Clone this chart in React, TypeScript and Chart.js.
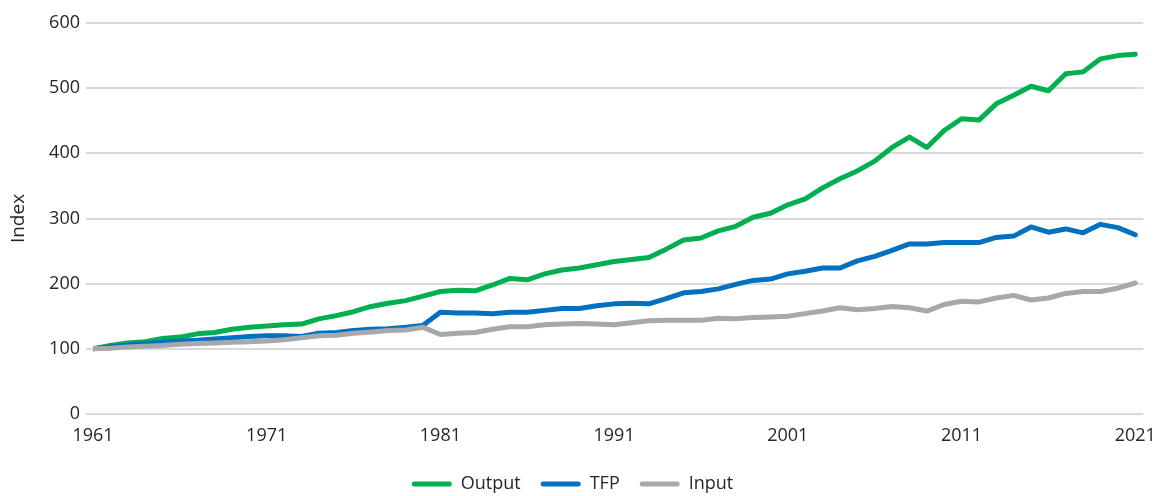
import { useEffect, useRef } from "react";
import { Chart, registerables } from "chart.js";

Chart.register(...registerables);

const years = [
  1961, 1962, 1963, 1964, 1965, 1966, 1967, 1968, 1969, 1970,
  1971, 1972, 1973, 1974, 1975, 1976, 1977, 1978, 1979, 1980,
  1981, 1982, 1983, 1984, 1985, 1986, 1987, 1988, 1989, 1990,
  1991, 1992, 1993, 1994, 1995, 1996, 1997, 1998, 1999, 2000,
  2001, 2002, 2003, 2004, 2005, 2006, 2007, 2008, 2009, 2010,
  2011, 2012, 2013, 2014, 2015, 2016, 2017, 2018, 2019, 2020,
  2021,
];

const tickYears = [1961, 1971, 1981, 1991, 2001, 2011, 2021];
const yTickValues = [0, 100, 200, 300, 400, 500, 600];

const outputIndex = [
  100, 105, 109, 111, 116, 118, 123, 125, 130, 133,
  135, 137, 138, 146, 151, 157, 165, 170, 174, 181,
  188, 190, 189, 198, 208, 206, 215, 221, 224, 229,
  234, 237, 240, 253, 267, 270, 281, 288, 302, 308,
  321, 330, 347, 361, 373, 388, 409, 425, 409, 435,
  453, 451, 476, 489, 503, 496, 522, 525, 545, 550,
  552,
];

const tfpIndex = [
  100, 103, 106, 108, 110, 112, 113, 115, 117, 119,
  120, 120, 119, 124, 125, 128, 130, 131, 133, 136,
  156, 155, 155, 154, 156, 156, 159, 162, 162, 166,
  169, 170, 169, 177, 186, 188, 192, 199, 205, 207,
  215, 219, 224, 224, 235, 242, 251, 261, 261, 263,
  263, 263, 271, 273, 287, 279, 284, 278, 291, 286,
  275,
];

const inputIndex = [
  100, 101, 103, 104, 105, 107, 108, 109, 110, 111,
  112, 114, 117, 120, 121, 124, 126, 128, 129, 133,
  122, 124, 125, 130, 134, 134, 137, 138, 139, 138,
  137, 140, 143, 144, 144, 144, 147, 146, 148, 149,
  150, 154, 158, 163, 160, 162, 165, 163, 158, 168,
  173, 172, 178, 182, 175, 178, 185, 188, 188, 193,
  201,
];

const seriesNames = ["Output", "TFP", "Input"];
const seriesColors = ["#00B050", "#0070C0", "#A6A8AB"];

const textColor = "#262626";
const fontFamily = "'Open Sans', sans-serif";

export default function App() {
  const canvasRef = useRef<HTMLCanvasElement | null>(null);

  useEffect(() => {
    document.body.style.margin = "0";
    const canvas = canvasRef.current;
    if (!canvas) return;

    const seriesValues = [outputIndex, tfpIndex, inputIndex];
    const datasets = seriesNames.map((name, si) => ({
      label: name,
      data: years.map((yr, i) => ({ x: yr, y: seriesValues[si][i] })),
      borderColor: seriesColors[si],
      backgroundColor: seriesColors[si],
      borderWidth: 5,
      pointRadius: 0,
      tension: 0,
      borderCapStyle: "round" as const,
      borderJoinStyle: "round" as const,
      order: 3 - si,
    }));

    const font = { family: fontFamily, size: 18 };

    const chart = new Chart(canvas, {
      type: "line",
      data: { datasets },
      options: {
        responsive: true,
        maintainAspectRatio: false,
        animation: false,
        layout: { padding: { top: 23, right: 22, bottom: -7, left: 0 } },
        scales: {
          x: {
            type: "linear",
            min: 1961,
            max: 2021.46,
            grid: { display: false, drawTicks: false },
            border: { display: false },
            afterBuildTicks: (s: any) => {
              s.ticks = tickYears.map((v) => ({ value: v }));
            },
            afterFit: (s: any) => {
              s.height = 41;
            },
            ticks: {
              padding: 11,
              maxRotation: 0,
              autoSkip: false,
              color: textColor,
              font,
              callback: (v: any) => String(v),
            },
          },
          y: {
            min: 0,
            max: 600,
            afterBuildTicks: (s: any) => {
              s.ticks = yTickValues.map((v) => ({ value: v }));
            },
            afterFit: (s: any) => {
              s.width = 93;
            },
            grid: {
              color: "#d9d9d9",
              lineWidth: 2,
              drawTicks: true,
              tickLength: 7,
            },
            border: { display: false },
            ticks: { padding: 6, color: textColor, font },
            title: {
              display: true,
              text: "Index",
              color: textColor,
              font: { family: fontFamily, size: 19 },
              padding: { top: 7, bottom: 0 },
            },
          },
        },
        plugins: {
          tooltip: { enabled: false },
          legend: {
            position: "bottom",
            labels: {
              boxWidth: 40,
              boxHeight: 5,
              useBorderRadius: true,
              borderRadius: 2.5,
              padding: 20,
              color: textColor,
              font: { family: fontFamily, size: 18 },
              sort: (a: any, b: any) => a.datasetIndex - b.datasetIndex,
              generateLabels: (c: any) =>
                Chart.defaults.plugins.legend.labels
                  .generateLabels(c)
                  .map((l: any) => ({ ...l, lineWidth: 0, fillStyle: l.strokeStyle })),
            },
          },
        },
      },
    } as any);

    return () => chart.destroy();
  }, []);

  return (
    <div style={{ width: 1167, height: 496, position: "relative" }}>
      <canvas ref={canvasRef} />
    </div>
  );
}
